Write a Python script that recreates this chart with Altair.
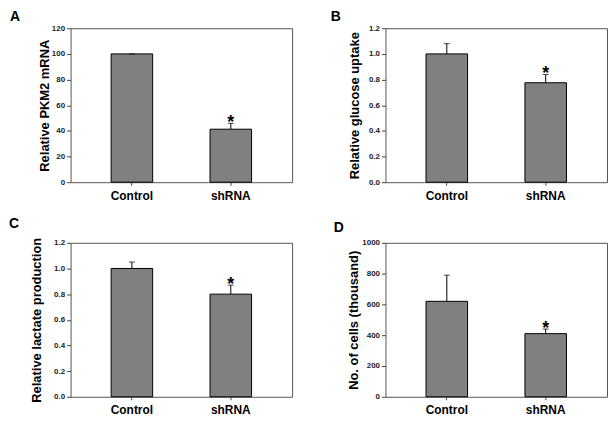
import altair as alt
import pandas as pd

categories = ["Control", "shRNA"]
stars = ["", "*"]

a_vals = [100.0, 41.3]
a_err = [0.0, 4.6]
b_vals = [1.0, 0.775]
b_err = [0.08, 0.065]
c_vals = [1.0, 0.80]
c_err = [0.05, 0.07]
d_vals = [620.0, 410.0]
d_err = [170.0, 30.0]

FONT = "Liberation Sans"


def panel(letter, vals, errs, ytitle, domain, ticks, fmt, title_x, letter_dx, letter_offset):
    df = pd.DataFrame({
        "group": categories,
        "value": vals,
        "top": [v + e for v, e in zip(vals, errs)],
        "star": stars,
    })
    x = alt.X(
        "group:N",
        sort=categories,
        scale=alt.Scale(paddingInner=0.58, paddingOuter=0.41),
        axis=alt.Axis(
            title=None, labelAngle=0, labelFont=FONT, labelFontSize=12,
            labelFontWeight="bold", labelColor="black", tickSize=3,
            tickColor="#444", domain=False, labelPadding=5,
        ),
    )
    y_axis = alt.Axis(
        title=ytitle, values=ticks, format=fmt, grid=False, domain=False,
        labelOverlap=False, tickSize=4, tickColor="#444", labelFont=FONT,
        labelFontSize=8, labelFontWeight="bold", labelColor="#222", labelPadding=2,
        titleFont=FONT, titleFontSize=13, titleFontWeight="bold",
        titleColor="black", titleX=title_x, titleBaseline="middle",
    )
    sc = alt.Scale(domain=domain, nice=False)
    y = alt.Y("value:Q", scale=sc, axis=y_axis)
    ytop = alt.Y("top:Q", scale=sc, axis=y_axis)
    base = alt.Chart(df)
    bars = base.mark_bar(color="#808080", stroke="black", strokeWidth=1).encode(x=x, y=y)
    rule = base.mark_rule(color="black", strokeWidth=1).encode(x=x, y=y, y2="top:Q")
    cap = base.mark_tick(color="black", size=6, thickness=1, orient="horizontal").encode(
        x=x, y=ytop)
    star = base.mark_text(font=FONT, fontSize=18, fontWeight="bold", color="black",
                          baseline="alphabetic", dy=5).encode(x=x, y=ytop, text="star:N")
    return alt.layer(bars, rule, cap, star).properties(
        width=223, height=155,
        title=alt.TitleParams(letter, anchor="start", frame="group", font=FONT,
                              fontSize=14, fontWeight="bold", color="black",
                              dx=letter_dx, offset=letter_offset),
    )


pa = panel("A", a_vals, a_err, "Relative PKM2 mRNA", [0, 120],
           [0, 20, 40, 60, 80, 100, 120], "d", -26, -61, 0)
pb = panel("B", b_vals, b_err, "Relative glucose uptake", [0, 1.2],
           [0, 0.2, 0.4, 0.6, 0.8, 1.0, 1.2], ".1f", -31, -55, 0)
pc = panel("C", c_vals, c_err, "Relative lactate production", [0, 1.2],
           [0, 0.2, 0.4, 0.6, 0.8, 1.0, 1.2], ".1f", -34, -62, 6)
pd_ = panel("D", d_vals, d_err, "No. of cells (thousand)", [0, 1000],
            [0, 200, 400, 600, 800, 1000], "d", -32, -52, 4)

chart = alt.concat(
    pa, pb, pc, pd_, columns=2, spacing={"row": 61, "column": 94}, bounds="flush"
).resolve_scale(x="independent", y="independent").properties(
    padding={"left": 0, "top": 0, "right": 0, "bottom": 0},
    background="white",
).configure_view(stroke="#555", strokeWidth=1)

chart.save("out.html", embed_options={"renderer": "svg", "actions": False})
